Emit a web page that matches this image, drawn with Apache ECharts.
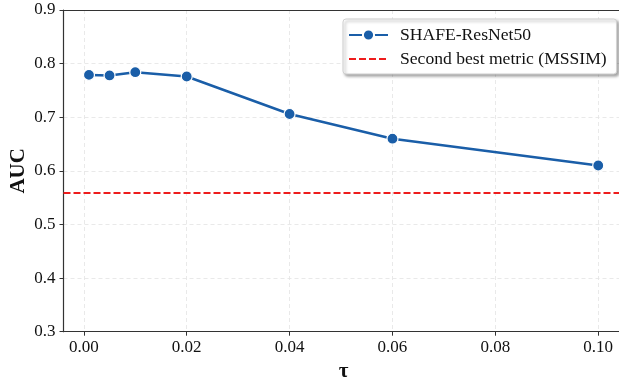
<!DOCTYPE html>
<html>
<head>
<meta charset="utf-8">
<script src="https://cdn.jsdelivr.net/npm/echarts@6/dist/echarts.min.js"></script>
<style>html,body{margin:0;padding:0;background:#fff;}#c{width:619px;height:379px;}</style>
</head>
<body>
<div id="c"></div>
<script>
const tauValues = [0.001, 0.005, 0.01, 0.02, 0.04, 0.06, 0.1];
const aucValues = [0.779, 0.778, 0.784, 0.776, 0.706, 0.660, 0.610];
const baselineValue = 0.56;
const xTicks = [0, 0.02, 0.04, 0.06, 0.08, 0.1];
const seriesName = 'SHAFE-ResNet50';
const baselineName = 'Second best metric (MSSIM)';

const FONT = '"Liberation Serif", "Times New Roman", serif';
const chart = echarts.init(document.getElementById('c'), null, {renderer: 'canvas'});
chart.setOption({
  animation: false,
  backgroundColor: '#fff',
  grid: {left: 63.5, top: 10, right: -4.7, bottom: 47.3, outerBoundsMode: 'none', containLabel: false, show: false},
  legend: {
    left: 343, top: 19, orient: 'vertical',
    padding: [7, 10, 6, 5], itemGap: 6, itemWidth: 39, itemHeight: 14,
    backgroundColor: '#fff', borderColor: '#d0d0d0', borderWidth: 1, borderRadius: 3,
    shadowColor: 'rgba(0,0,0,0.35)', shadowBlur: 3, shadowOffsetX: 2, shadowOffsetY: 2,
    textStyle: {fontFamily: FONT, fontSize: 17.6, color: '#111', padding: [0, 0, 0, 7]},
    data: [{name: seriesName}, {name: baselineName, itemStyle: {color: 'rgba(0,0,0,0)', borderWidth: 0, opacity: 0}}]
  },
  xAxis: [{
    type: 'value', min: -0.00395, max: 0.10495,
    name: 'τ', nameLocation: 'middle', nameGap: 27,
    nameTextStyle: {fontFamily: FONT, fontSize: 21, fontWeight: 'bold', color: '#111'},
    axisLine: {onZero: false, lineStyle: {color: '#333', width: 1.2}},
    axisTick: {show: true, length: 4, inside: false, customValues: xTicks, lineStyle: {color: '#333'}},
    axisLabel: {customValues: xTicks, margin: 7, fontFamily: FONT, fontSize: 17, color: '#111', formatter: v => v.toFixed(2)},
    splitLine: {show: true, lineStyle: {color: '#e3e3e3', type: [4, 3], width: 0.8}}
  }, {
    type: 'value', position: 'top', min: -0.00395, max: 0.10495,
    axisLine: {show: true, onZero: false, lineStyle: {color: '#333', width: 1.2}},
    axisTick: {show: false}, axisLabel: {show: false}, splitLine: {show: false}
  }],
  yAxis: {
    type: 'value', min: 0.3, max: 0.9, interval: 0.1,
    name: 'AUC', nameLocation: 'middle', nameGap: 34, nameMoveOverlap: false,
    nameTextStyle: {fontFamily: FONT, fontSize: 21, fontWeight: 'bold', color: '#111'},
    axisLine: {show: true, onZero: false, lineStyle: {color: '#333', width: 1.2}},
    axisTick: {show: true, length: 4, lineStyle: {color: '#333'}},
    axisLabel: {margin: 8, fontFamily: FONT, fontSize: 17, color: '#111', formatter: v => v.toFixed(1)},
    splitLine: {show: true, lineStyle: {color: '#e3e3e3', type: [4, 3], width: 0.8}}
  },
  series: [
    {
      name: seriesName, type: 'line', xAxisIndex: 0,
      data: tauValues.map((t, i) => [t, aucValues[i]]),
      symbol: 'circle', symbolSize: 11,
      lineStyle: {color: '#1a5ea8', width: 2.5},
      itemStyle: {color: '#1a5ea8', borderColor: '#fff', borderWidth: 1.2},
      z: 3
    },
    {
      name: baselineName, type: 'line', data: [], xAxisIndex: 0,
      symbol: 'none',
      lineStyle: {color: '#ee1c1c', width: 2, type: [7, 3]},
      itemStyle: {color: '#ee1c1c'},
      markLine: {
        silent: true, symbol: 'none', label: {show: false},
        lineStyle: {color: '#ee1c1c', width: 2, type: [7, 3]},
        data: [{yAxis: baselineValue}]
      },
      z: 2
    }
  ]
});
</script>
</body>
</html>
